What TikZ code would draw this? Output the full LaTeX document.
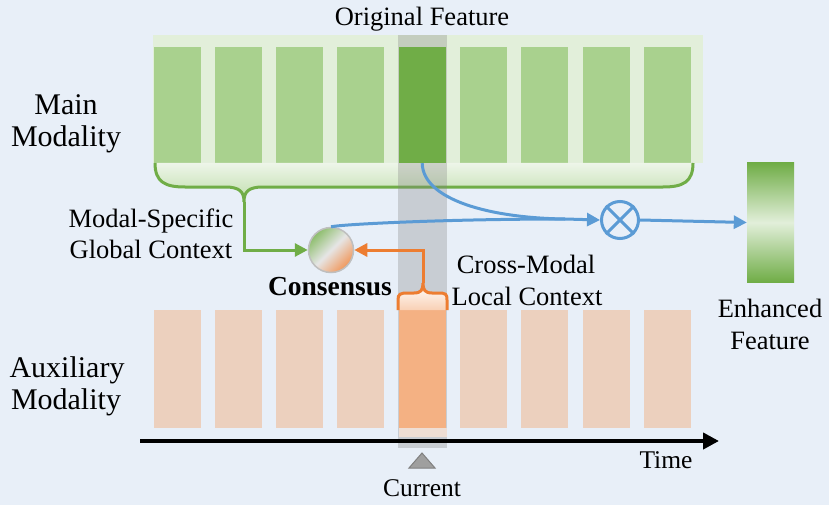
\documentclass[tikz,border=0pt]{standalone}
\usepackage{fontspec}
\setmainfont{Liberation Serif}
\usetikzlibrary{arrows.meta}
\definecolor{bg}{RGB}{232,239,248}
\definecolor{bandgreen}{RGB}{226,239,218}
\definecolor{cellgreen}{RGB}{169,209,142}
\definecolor{darkgreen}{RGB}{112,173,71}
\definecolor{cellorange}{RGB}{236,208,190}
\definecolor{darkorange}{RGB}{244,177,131}
\definecolor{strokeorange}{RGB}{237,125,49}
\definecolor{bluel}{RGB}{91,155,213}
\definecolor{bracegreen}{RGB}{190,221,170}
\definecolor{stripcol}{RGB}{238,222,212}
\tikzset{
  gcell/.style={minimum width=47pt, minimum height=116pt, fill=cellgreen, inner sep=0pt},
  ocell/.style={minimum width=47pt, minimum height=118pt, fill=cellorange, inner sep=0pt},
  lbl/.style={inner sep=0pt, anchor=base, font=\fontsize{26.5}{30}\selectfont},
  biglbl/.style={inner sep=0pt, anchor=base, font=\fontsize{30}{34}\selectfont},
  tip/.style={-{Triangle[length=13pt,width=13pt]}},
  gline/.style={draw=darkgreen, line width=3pt},
  oline/.style={draw=strokeorange, line width=3pt},
  bline/.style={draw=bluel, line width=3pt},
}
\begin{document}
\begin{tikzpicture}[x=1pt,y=-1pt]
\useasboundingbox (0,0) rectangle (829,505);
\fill[bg] (0,0) rectangle (829,505);

% main band
\fill[bandgreen] (153,35) rectangle (703,163);
\foreach \i in {0,1,2,3,5,6,7,8} {
  \node[gcell] (g\i) at ({177+61.3*\i},105) {};
  \node[ocell] (o\i) at ({177+61.3*\i},369) {};
}
% brace fill and outline
\shade[top color=bandgreen!60!white, bottom color=bracegreen]
  (155,163) .. controls (155,182) and (165,187) .. (185,187) -- (225,187)
  .. controls (240,187) and (244,192) .. (244,202)
  .. controls (244,192) and (248,187) .. (263,187) -- (663,187)
  .. controls (683,187) and (693,182) .. (693,163) -- cycle;
\coordinate (gtip) at (244,202);
\draw[gline]
  (155,163) .. controls (155,182) and (165,187) .. (185,187) -- (225,187)
  .. controls (240,187) and (244,192) .. (gtip)
  .. controls (244,192) and (248,187) .. (263,187) -- (663,187)
  .. controls (683,187) and (693,182) .. (693,163);

% current column
\fill[gray, opacity=0.3] (398,35) rectangle (447,448);
\fill[stripcol] (399,428) rectangle (447,437);

% current cells
\node[gcell, fill=darkgreen] (g4) at ({177+61.3*4},105) {};
\node[ocell, fill=darkorange] (o4) at ({177+61.3*4},369) {};

% orange brace
\coordinate (otip) at (423,283);
\shade[top color=white, bottom color=darkorange!60!white]
  (398,310) -- (398,300) .. controls (398,294) and (400,293) .. (408,293) -- (414,293)
  .. controls (421,293) and (423,290) .. (otip)
  .. controls (423,290) and (425,293) .. (432,293) -- (438,293)
  .. controls (446,293) and (447,294) .. (447,300) -- (447,310) -- cycle;
\draw[oline]
  (398,310) -- (398,300) .. controls (398,294) and (400,293) .. (408,293) -- (414,293)
  .. controls (421,293) and (423,290) .. (otip)
  .. controls (423,290) and (425,293) .. (432,293) -- (438,293)
  .. controls (446,293) and (447,294) .. (447,300) -- (447,310);

% consensus circle
\node[circle, minimum size=45pt, inner sep=0pt, draw=gray!50, line width=1.5pt,
      top color=darkgreen!80!white, bottom color=strokeorange!80!white,
      middle color=gray!20!white, shading angle=45] (cons) at (331,250) {};

% multiply
\node[circle, minimum size=37pt, inner sep=0pt, bline, fill=bg] (mul) at (620,220) {};
\draw[bline] (mul.north west) -- (mul.south east);
\draw[bline] (mul.north east) -- (mul.south west);

% enhanced feature
\node[minimum width=47pt, minimum height=119pt, inner sep=0pt,
      top color=darkgreen, bottom color=darkgreen, middle color=bandgreen] (enh) at (770.5,222.5) {};

% connectors
\draw[gline, tip] (gtip) |- (cons.west);
\draw[oline, tip] (otip) |- (cons.east);
\coordinate (join) at (565,219);
\draw[bline] (g4.south) .. controls (423,200) and (490,218) .. (join);
\draw[bline] (cons.north) .. controls (345,224) and (450,219) .. (join);
\draw[bline, tip] (join) -- (mul.west);
\draw[bline, tip] (mul.east) -- (enh.west);

% timeline
\coordinate (t0) at (140,441);
\coordinate (t1) at (719,441);
\draw[line width=4pt, -{Triangle[length=16pt,width=16pt]}] (t0) -- (t1);
\filldraw[fill=gray!75, draw=gray, line width=1pt] (409,468) -- (422,453) -- (435,468) -- cycle;

% labels
\node[lbl] (of) at (422,26) {Original Feature};
\node[biglbl] (mm1) at (66,115) {Main};
\node[biglbl] (mm2) at (66,147) {Modality};
\node[biglbl] (am1) at (67,377) {Auxiliary};
\node[biglbl] (am2) at (66,409) {Modality};
\node[lbl] (ms1) at (151,227) {Modal-Specific};
\node[lbl] (ms2) at (151,258) {Global Context};
\node[lbl, font=\bfseries\fontsize{27.5}{30}\selectfont] (cl) at (330,295) {Consensus};
\node[lbl] (cm1) at (526,273) {Cross-Modal};
\node[lbl] (cm2) at (527,305) {Local Context};
\node[lbl] (ef1) at (770,317) {Enhanced};
\node[lbl] (ef2) at (770,349) {Feature};
\node[lbl, font=\fontsize{25.5}{30}\selectfont] (tm) at (666,468) {Time};
\node[lbl, font=\fontsize{25.5}{30}\selectfont] (cu) at (422,496) {Current};
\end{tikzpicture}
\end{document}
